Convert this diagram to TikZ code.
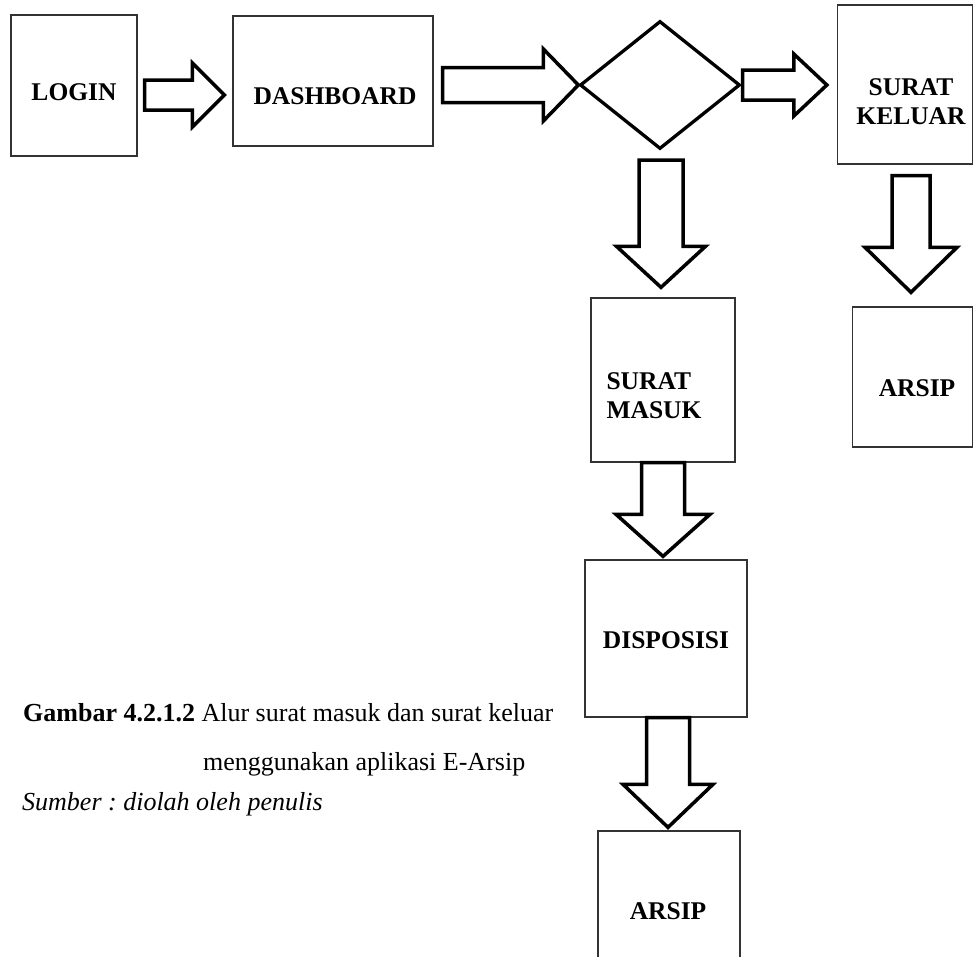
\documentclass[tikz,border=0pt]{standalone}
\usepackage{fontspec}
\setmainfont{Liberation Serif}
\usetikzlibrary{calc,shapes.geometric}

% block arrow from coordinate #1 to tip #2:
% #3 half shaft width, #4 half head width, #5 head length
\newcommand\blockarrow[5]{%
  \coordinate (ba-h) at ($(#2)!#5!(#1)$);
  \draw[flowarrow]
    ($(#1)!#3!90:(#2)$) -- ($(ba-h)!#3!90:(#2)$) -- ($(ba-h)!#4!90:(#2)$)
    -- (#2)
    -- ($(ba-h)!#4!-90:(#2)$) -- ($(ba-h)!#3!-90:(#2)$) -- ($(#1)!#3!-90:(#2)$)
    -- cycle;
}

\tikzset{
  box/.style={draw=black!80, line width=1.3pt, inner sep=0pt, fill=white},
  lbl/.style={font=\fontsize{25.5}{29}\selectfont\bfseries, inner sep=0pt, align=center},
  decision/.style={diamond, draw=black, line width=3.3pt, inner sep=0pt,
    minimum width=160pt, minimum height=128pt},
  flowarrow/.style={draw=black, line width=3.5pt, fill=white, line join=miter},
  caption/.style={font=\fontsize{26}{30}\selectfont, inner sep=0pt, anchor=base west},
}

\begin{document}
\begin{tikzpicture}[x=1pt, y=-1pt]
\path[use as bounding box, clip] (0,0) rectangle (974,956);
\fill[white] (0,0) rectangle (974,956);

% boxes
\node[box, minimum width=126pt, minimum height=141pt] (login)  at (74,85.5) {};
\node[box, minimum width=200pt, minimum height=130pt] (dash)   at (333,81) {};
\node[decision] (dia) at (660,85) {};
\node[box, minimum width=135pt, minimum height=159pt] (keluar) at (905,84.5) {};
\node[box, minimum width=120pt, minimum height=140pt] (arsipA) at (912.5,377) {};
\node[box, minimum width=144pt, minimum height=164pt] (masuk)  at (663,380) {};
\node[box, minimum width=162pt, minimum height=157pt] (disp)   at (666,638.5) {};
\node[box, minimum width=142pt, minimum height=160pt] (arsipB) at (669,911) {};

% box texts
\node[lbl] (loginT)  at (74,92)    {LOGIN};
\node[lbl] (dashT)   at (335,96)   {DASHBOARD};
\node[lbl] (keluarT) at (911,101.5){SURAT\\KELUAR};
\node[lbl] (arsipAT) at (917,388)  {ARSIP};
\node[lbl, align=left] (masukT) at (654,396) {SURAT\\MASUK};
\node[lbl] (dispT)   at (666,640)  {DISPOSISI};
\node[lbl] (arsipBT) at (668,911)  {ARSIP};

% arrows between the steps
\coordinate (a1s) at ($(login.east)+(7,9.5)$);
\coordinate (a1e) at ($(dash.west |- a1s)+(-8,0)$);
\blockarrow{a1s}{a1e}{15pt}{32pt}{32pt}

\coordinate (a2e) at (dia.west);
\coordinate (a2s) at ($(dash.east |- a2e)+(9,0)$);
\blockarrow{a2s}{a2e}{17.5pt}{36pt}{35pt}

\coordinate (a3s) at ($(dia.east)+(1,0)$);
\coordinate (a3e) at ($(keluar.west |- a3s)+(-10,0)$);
\blockarrow{a3s}{a3e}{15pt}{31pt}{33pt}

\coordinate (a4s) at ($(keluar.south)+(6,11)$);
\coordinate (a4e) at ($(arsipA.north -| a4s)+(0,-14)$);
\blockarrow{a4s}{a4e}{19pt}{46pt}{45pt}

\coordinate (a5s) at ($(dia.south)+(1,9.5)$);
\coordinate (a5e) at ($(masuk.north -| a5s)+(0,-10)$);
\blockarrow{a5s}{a5e}{22pt}{44.5pt}{41pt}

\coordinate (a6s) at ($(masuk.south)+(0,0)$);
\coordinate (a6e) at ($(disp.north -| a6s)+(0,-3)$);
\blockarrow{a6s}{a6e}{21.5pt}{47pt}{42pt}

\coordinate (a7s) at ($(disp.south)+(2,0)$);
\coordinate (a7e) at ($(arsipB.north -| a7s)+(0,-3)$);
\blockarrow{a7s}{a7e}{21.5pt}{45pt}{43pt}

% caption
\node[caption] (cap1) at (23,721) {\textbf{Gambar 4.2.1.2} Alur surat masuk dan surat keluar};
\node[caption] (cap2) at (203,770) {menggunakan aplikasi E-Arsip};
\node[caption] (cap3) at (22,810) {\textit{Sumber :\ diolah oleh penulis}};
\end{tikzpicture}
\end{document}
